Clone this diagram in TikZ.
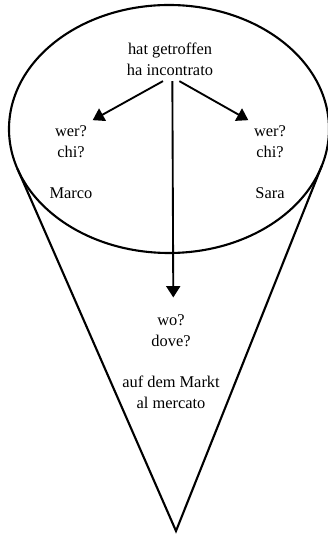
\documentclass[tikz,border=0pt]{standalone}
\usepackage{fontspec}
\setmainfont{Liberation Serif}
\usetikzlibrary{arrows.meta,positioning,calc}
\begin{document}
\begin{tikzpicture}[font=\fontsize{14}{18}\selectfont,line width=1.8pt]
\tikzset{lbl/.style={align=center,inner sep=4pt},arr/.style={line width=1.6pt,-{Triangle[length=3.4mm,width=4.2mm]}}}
\useasboundingbox (0,0) rectangle (9.81,16.11);
\coordinate (ctr) at (5.07,12.24);
\coordinate (apex) at (5.28,0.18);
\coordinate (lt) at ([shift={(198.7:4.80 and 3.72)}]ctr);
\coordinate (rt) at ([shift={(342.8:4.80 and 3.72)}]ctr);
\draw (lt) -- (apex) -- (rt);
\draw (ctr) ellipse [x radius=4.80,y radius=3.72];
\node[lbl] (verb) at (5.10,14.34) {hat getroffen\\ha incontrato};
\node[lbl] (werl) at (2.13,11.85) {wer?\\chi?};
\node[lbl] (marco) at (2.13,10.32) {Marco};
\node[lbl] (werr) at (8.10,11.85) {wer?\\chi?};
\node[lbl] (sara) at (8.10,10.32) {Sara};
\node[lbl] (wo) at (5.13,6.18) {wo?\\dove?};
\node[lbl] (markt) at (5.13,4.35) {auf dem Markt\\al mercato};
\draw[arr] ([xshift=-6pt]verb.south) -- (werl.north east);
\draw[arr] ([xshift=8pt]verb.south) -- (werr.north west);
\draw[arr,shorten >=10pt] ([xshift=2pt]verb.south) -- ([xshift=2pt]wo.north);
\end{tikzpicture}
\end{document}
